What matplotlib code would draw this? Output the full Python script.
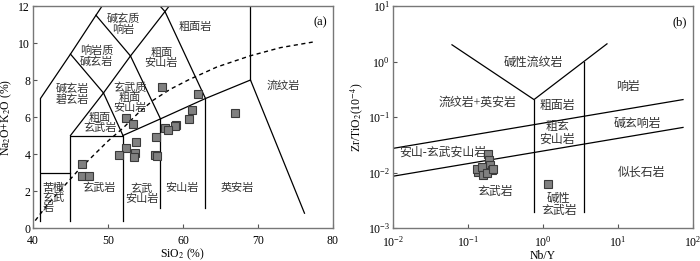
import numpy as np
import matplotlib
matplotlib.use('Agg')
import matplotlib.pyplot as plt

plt.rcParams['font.family'] = ['Liberation Serif', 'Noto Sans CJK SC']
plt.rcParams['mathtext.fontset'] = 'stix'
plt.rcParams['axes.unicode_minus'] = False

# ---- data: TAS diagram (a) ----
sio2 = [57.2, 62.0, 61.2, 66.9, 52.4, 60.8, 53.4, 59.1, 58.9, 57.6, 58.0,
        56.4, 53.7, 52.4, 51.5, 53.6, 53.5, 56.3, 56.5, 46.6, 46.5, 47.5]
alk = [7.64, 7.23, 6.38, 6.23, 5.93, 5.88, 5.61, 5.57, 5.51, 5.42, 5.30,
       4.94, 4.66, 4.31, 3.95, 4.04, 3.85, 3.95, 3.89, 3.44, 2.81, 2.81]

# alkaline / subalkaline divide (dashed)
div_x = [40.3, 42.0, 44.0, 46.0, 48.0, 50.0, 52.0, 54.0, 56.0, 58.3, 60.7, 64.5, 68.9, 73.0, 77.3]
div_y = [0.4, 1.3, 2.2, 3.1, 3.9, 4.7, 5.4, 6.2, 6.9, 7.5, 8.0, 8.7, 9.3, 9.75, 10.05]

# ---- data: Zr/TiO2 vs Nb/Y (b) ----
nby = [0.187, 0.192, 0.196, 0.207, 0.169, 0.137, 0.131, 0.152, 0.160, 0.177, 0.217, 1.18]
zrti = [0.0218, 0.0166, 0.0135, 0.0110, 0.0103, 0.0103, 0.0118, 0.0126, 0.0090, 0.0096, 0.0118, 0.0061]

fig = plt.figure(figsize=(7.0, 2.61), dpi=100)
ax1 = fig.add_axes([0.0471, 0.1264, 0.4286, 0.8506])
ax2 = fig.add_axes([0.5614, 0.1264, 0.4286, 0.8506])

lc = 'black'
lw = 0.9

# TAS field boundaries
tas_lines = [
    [(41, 0.4), (41, 3), (45, 3)],
    [(45, 0.4), (45, 5), (52, 5), (52, 0.4)],
    [(52, 5), (57, 5.9), (63, 7), (69, 8), (76.2, 0.8)],
    [(57, 1.1), (57, 5.9)],
    [(63, 1.1), (63, 7)],
    [(45, 5), (49.4, 7.3), (52, 5)],
    [(49.4, 7.3), (53, 9.3), (57, 5.9)],
    [(53, 9.3), (57.6, 11.7), (63, 7)],
    [(41, 3), (41, 7), (45, 9.4), (48.4, 11.5), (52.5, 14)],
    [(45, 9.4), (49.4, 7.3)],
    [(48.4, 11.5), (53, 9.3)],
    [(52.5, 14), (57.6, 11.7), (61, 13.5)],
    [(69, 8), (69, 13)],
]
for seg in tas_lines:
    xs, ys = zip(*seg)
    ax1.plot(xs, ys, color=lc, lw=lw, zorder=2)
ax1.plot(div_x, div_y, color=lc, lw=1.0, ls=(0, (3, 2.5)), zorder=2)

ax1.plot(sio2, alk, 's', ms=5.3, mfc='#808080', mec='#3a3a3a', mew=0.8, ls='none', zorder=3)

labels_a = [
    (52.0, 11.0, '碱玄质\n响岩'),
    (48.5, 9.3, '响岩质\n碱玄岩'),
    (57.1, 9.2, '粗面\n安山岩'),
    (61.7, 10.86, '粗面岩'),
    (45.2, 7.24, '碱玄岩\n碧玄岩'),
    (52.9, 7.03, '玄武质\n粗面\n安山岩'),
    (48.9, 5.68, '粗面\n玄武岩'),
    (73.3, 7.68, '流纹岩'),
    (48.8, 2.16, '玄武岩'),
    (54.5, 1.84, '玄武\n安山岩'),
    (59.9, 2.16, '安山岩'),
    (67.2, 2.16, '英安岩'),
]
for x, y, t in labels_a:
    ax1.text(x, y, t, ha='center', va='center', fontsize=8, linespacing=1.0, color='#333333')
ax1.text(41.3, 1.62, '苦橄\n玄武\n岩', ha='left', va='center', fontsize=8, linespacing=1.0, color='#333333')
ax1.text(78.3, 11.1, '(a)', ha='center', va='center', fontsize=9)

ax1.set_xlim(40, 80)
ax1.set_ylim(0, 12)
ax1.set_xticks([40, 50, 60, 70, 80])
ax1.set_yticks([0, 2, 4, 6, 8, 10, 12])
ax1.set_xlabel(r'SiO$_2$ (%)', fontsize=8.5, labelpad=0)
ax1.set_ylabel(r'Na$_2$O+K$_2$O (%)', fontsize=8.5, labelpad=3)

# Winchester & Floyd boundaries
b_lines = [
    [(0.0612, 2.0), (0.759, 0.206), (7.13, 2.08)],
    [(0.759, 0.206), (0.759, 0.00194)],
    [(3.52, 0.99), (3.52, 0.00194)],
    [(0.01, 0.0272), (73.6, 0.206)],
    [(0.01, 0.00857), (73.6, 0.0649)],
]
for seg in b_lines:
    xs, ys = zip(*seg)
    ax2.plot(xs, ys, color=lc, lw=lw, zorder=2)

ax2.plot(nby, zrti, 's', ms=5.3, mfc='#808080', mec='#3a3a3a', mew=0.8, ls='none', zorder=3)

labels_b = [
    (0.736, 0.95, '碱性流纹岩'),
    (13.6, 0.352, '响岩'),
    (0.132, 0.182, '流纹岩+英安岩'),
    (1.54, 0.155, '粗面岩'),
    (17.9, 0.0764, '碱玄响岩'),
    (1.54, 0.0506, '粗玄\n安山岩'),
    (0.0464, 0.0231, '安山-玄武安山岩'),
    (0.229, 0.00443, '玄武岩'),
    (20.9, 0.0101, '似长石岩'),
    (1.63, 0.00264, '碱性\n玄武岩'),
]
for x, y, t in labels_b:
    ax2.text(x, y, t, ha='center', va='center', fontsize=8.6, linespacing=1.0, color='#333333')
ax2.text(67, 5.16, '(b)', ha='center', va='center', fontsize=9)

ax2.set_xscale('log')
ax2.set_yscale('log')
ax2.set_xlim(1e-2, 1e2)
ax2.set_ylim(1e-3, 1e1)
ax2.minorticks_off()
ax2.set_xticks([1e-2, 1e-1, 1e0, 1e1, 1e2])
ax2.set_yticks([1e-3, 1e-2, 1e-1, 1e0, 1e1])
ax2.set_xlabel('Nb/Y', fontsize=8.5, labelpad=0)
ax2.set_ylabel(r'Zr/TiO$_2$(10$^{-4}$)', fontsize=8.5, labelpad=2)

for ax in (ax1, ax2):
    ax.tick_params(direction='in', length=3, width=0.8, labelsize=8.5, color='#555555')
    ax.tick_params(axis='x', pad=5)
    ax.tick_params(axis='y', pad=2)
    for s in ax.spines.values():
        s.set_color('#777777')
        s.set_linewidth(1.0)

fig.savefig('out.png', dpi=100)
